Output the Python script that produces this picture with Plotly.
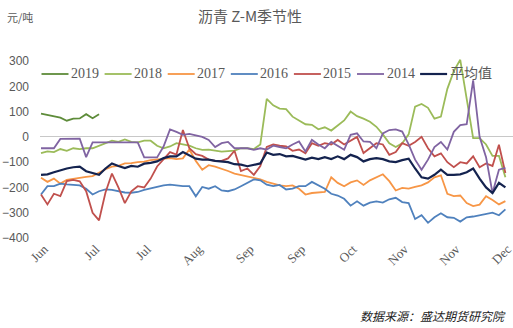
import plotly.graph_objects as go

# ---- data ----
tick_labels = ["Jun", "Jul", "Jul", "Aug", "Sep", "Sep", "Oct", "Nov", "Nov", "Dec"]

s2019 = [92, 87, 82, 76, 64, 72, 73, 90, 74, 90]

s2018 = [-64, -57, -60, -48, -55, -45, -48, -45, -45, -35,
         -25, -15, -20, -10, -20, -22, -15, -15, -35, -45,
         -38, -25, -30, -35, -45, -51, -50, -55, -58, -56,
         -54, -45, -45, -48, -30, 150, 125, 112, 110, 80,
         65, 50, 48, 30, 38, 25, 45, 65, 100, 82,
         72, 60, 40, 10, -25, -40, -25, 10, 120, 130,
         115, 72, 80, 190, 260, 305, 150, -5, -5, -30,
         -75, -75, -160]

s2017 = [-162, -178, -165, -185, -170, -165, -160, -158, -155, -140,
         -128, -118, -115, -105, -104, -100, -98, -92, -90, -86,
         -84, -88, -85, -50, -95, -130, -112, -118, -125, -135,
         -145, -150, -156, -160, -168, -178, -185, -192, -195, -192,
         -205, -228, -222, -220, -218, -160, -182, -195, -180, -172,
         -190, -172, -160, -148, -175, -212, -202, -205, -198, -192,
         -180, -160, -152, -225, -234, -232, -262, -274, -268, -235,
         -250, -267, -254]

s2016 = [-228, -195, -195, -185, -188, -190, -192, -205, -228, -215,
         -208, -210, -215, -220, -221, -218, -210, -205, -198, -192,
         -189, -192, -195, -195, -235, -198, -205, -195, -212, -215,
         -208, -195, -182, -168, -172, -189, -195, -190, -208, -205,
         -195, -195, -178, -190, -205, -225, -232, -245, -272, -255,
         -272, -260, -255, -260, -247, -241, -258, -262, -325, -310,
         -340, -318, -302, -318, -320, -335, -318, -315, -310, -305,
         -300, -310, -287]

s2015 = [-228, -267, -225, -234, -175, -170, -176, -215, -300, -330,
         -220, -145, -200, -262, -215, -195, -200, -165, -117, -90,
         -60, -70, 27, -45, -68, -75, -90, -95, -95, -85,
         -55, -135, -125, -150, -115, -40, -30, -35, -38, -55,
         -50, -65, -25, -35, -25, -30, -12, -30, -15, 0,
         -64, -45, -25, -30, -71, -60, -25, -35, -20, 0,
         -45, -77, -65, -100, -120, -100, -105, -77, -120, -105,
         -115, -31, -143]

s2014 = [-45, -45, -45, -8, -7, -7, -7, -80, -22, -22,
         -22, -22, -22, -22, -22, -22, -81, -81, -81, -38,
         30, 20, 8, 12, 5, 0, -12, -40, -25, -20,
         -45, -45, -45, -51, -45, -50, -35, -40, -45, -30,
         -18, -58, -12, -30, -45, -20, -35, -51, 8, 14,
         -18, -20, -45, 14, 27, 30, 21, -30, -90, -130,
         -90, -40, -20, -50, 20, 47, 50, 224, 0, -80,
         -222, -130, -123]

s_avg = [-150, -148, -140, -132, -125, -120, -118, -136, -143, -150,
         -125, -105, -115, -123, -115, -118, -106, -103, -97, -84,
         -77, -77, -60, -72, -86, -90, -90, -95, -97, -100,
         -108, -110, -116, -110, -105, -62, -71, -68, -77, -75,
         -84, -90, -82, -88, -80, -88, -77, -88, -71, -80,
         -97, -88, -84, -88, -97, -100, -92, -86, -125, -160,
         -165, -150, -130, -150, -150, -148, -140, -125, -165, -200,
         -222, -182, -200]

series = [
    ("2019", s2019, "#5E8C3A", 1.8),
    ("2018", s2018, "#9BBB59", 1.8),
    ("2017", s2017, "#F79646", 1.8),
    ("2016", s2016, "#4F81BD", 1.8),
    ("2015", s2015, "#C0504D", 1.8),
    ("2014", s2014, "#8064A2", 1.8),
    ("平均值", s_avg, "#14234F", 2.2),
]

W, H = 513, 328
ml, mr, mt, mb = 40, 0, 56, 90
pw, ph = W - ml - mr, H - mt - mb
px_per_pt = 6.45
x0 = -1.0 / px_per_pt
x1 = x0 + pw / px_per_pt
gray = "#595959"


def pxx(px):
    return (px - ml) / pw


def pxy(py):
    return (H - mb - py) / ph


fig = go.Figure()
for name, vals, color, w in series:
    fig.add_trace(go.Scatter(
        x=list(range(len(vals))), y=vals, mode="lines", name=name,
        line=dict(color=color, width=w), showlegend=False,
    ))

# manual single-row legend (Excel style)
shapes = []
annotations = []
leg_y = 74
for i, (name, vals, color, w) in enumerate(series):
    lx = 41.5 + 63.1 * i
    shapes.append(dict(type="line", xref="paper", yref="paper",
                       x0=pxx(lx), x1=pxx(lx + 27), y0=pxy(leg_y), y1=pxy(leg_y),
                       line=dict(color=color, width=w)))
    annotations.append(dict(text=name, xref="paper", yref="paper",
                            x=pxx(lx + 27.5), xanchor="left", y=pxy(leg_y - 0.5), yanchor="middle",
                            showarrow=False,
                            font=dict(family="Liberation Serif, Noto Sans CJK SC", size=14, color=gray)))

annotations += [
    dict(text="元/吨", xref="paper", yref="paper", x=pxx(5), xanchor="left",
         y=pxy(17), yanchor="middle", showarrow=False,
         font=dict(family="Noto Sans CJK SC", size=11, color=gray)),
    dict(text="<i>数据来源：盛达期货研究院</i>", xref="paper", yref="paper",
         x=pxx(508), xanchor="right", y=pxy(315), yanchor="middle", showarrow=False,
         font=dict(family="Noto Sans CJK SC", size=12, color="#222222")),
]

fig.update_layout(
    width=W, height=H,
    margin=dict(l=ml, r=mr, t=mt, b=mb),
    paper_bgcolor="white", plot_bgcolor="white",
    title=dict(text="沥青 Z-M季节性", x=250 / W, xref="container", xanchor="center",
               y=1 - 17 / H, yref="container", yanchor="middle",
               font=dict(family="Noto Sans CJK SC", size=15, color=gray)),
    showlegend=False,
    xaxis=dict(range=[x0, x1], showgrid=False, zeroline=False, showline=False,
               tickmode="array", tickvals=[0.5 + 7.98 * j for j in range(len(tick_labels))],
               ticktext=tick_labels, tickangle=-45, ticks="", ticklabeloverflow="allow",
               tickfont=dict(family="Liberation Serif", size=13, color=gray)),
    yaxis=dict(range=[-400, 320], showgrid=False, zeroline=True, zerolinecolor="#C8C8C8",
               zerolinewidth=1, showline=False, ticks="",
               tickmode="array", tickvals=[300, 200, 100, 0, -100, -200, -300, -400],
               ticklabelstandoff=10,
               tickfont=dict(family="Liberation Sans", size=12, color=gray)),
    shapes=shapes,
    annotations=annotations,
)

fig.write_html("out.html")
